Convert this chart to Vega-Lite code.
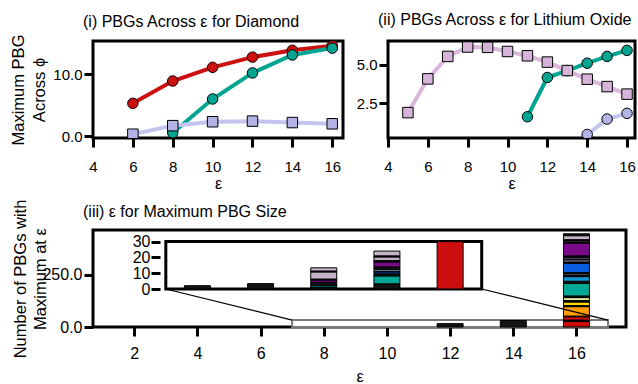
{
  "$schema": "https://vega.github.io/schema/vega-lite/v6.json",
  "background": "white",
  "padding": {"left": 9, "top": 10, "right": 0, "bottom": 0},
  "config": {
    "font": "Liberation Sans",
    "view": {"stroke": "black", "strokeWidth": 3},
    "axis": {"domain": false, "grid": false, "tickColor": "black", "tickWidth": 3, "tickSize": 9, "labelColor": "black", "titleColor": "black", "titleFontWeight": "normal", "labelFlush": false, "labelOverlap": false, "labelBound": false, "titleFontSize": 16, "labelPadding": 2},
    "title": {"fontSize": 16, "fontWeight": "normal", "anchor": "start", "frame": "group", "dx": -10, "offset": 11, "color": "black"}
  },
  "datasets": {
    "diamond": [
      {"s": "red", "eps": 6, "v": 5.3}, {"s": "red", "eps": 8, "v": 8.9}, {"s": "red", "eps": 10, "v": 11.1}, {"s": "red", "eps": 12, "v": 12.75}, {"s": "red", "eps": 14, "v": 13.85}, {"s": "red", "eps": 16, "v": 14.6},
      {"s": "teal", "eps": 8, "v": 0.55}, {"s": "teal", "eps": 10, "v": 6.0}, {"s": "teal", "eps": 12, "v": 10.2}, {"s": "teal", "eps": 14, "v": 13.1}, {"s": "teal", "eps": 16, "v": 14.2},
      {"s": "lav", "eps": 6, "v": 0.32}, {"s": "lav", "eps": 8, "v": 1.7}, {"s": "lav", "eps": 10, "v": 2.33}, {"s": "lav", "eps": 12, "v": 2.43}, {"s": "lav", "eps": 14, "v": 2.2}, {"s": "lav", "eps": 16, "v": 2.0}
    ],
    "lithium": [
      {"s": "teal", "eps": 11, "v": 1.63}, {"s": "teal", "eps": 12, "v": 4.18}, {"s": "teal", "eps": 13, "v": 4.63}, {"s": "teal", "eps": 14, "v": 5.11}, {"s": "teal", "eps": 15, "v": 5.55}, {"s": "teal", "eps": 16, "v": 5.94},
      {"s": "lav", "eps": 14, "v": 0.48}, {"s": "lav", "eps": 15, "v": 1.48}, {"s": "lav", "eps": 16, "v": 1.85},
      {"s": "lilac", "eps": 5, "v": 1.9}, {"s": "lilac", "eps": 6, "v": 4.09}, {"s": "lilac", "eps": 7, "v": 5.55}, {"s": "lilac", "eps": 8, "v": 6.16}, {"s": "lilac", "eps": 9, "v": 6.14}, {"s": "lilac", "eps": 10, "v": 5.87}, {"s": "lilac", "eps": 11, "v": 5.59}, {"s": "lilac", "eps": 12, "v": 5.18}, {"s": "lilac", "eps": 13, "v": 4.63}, {"s": "lilac", "eps": 14, "v": 4.07}, {"s": "lilac", "eps": 15, "v": 3.59}, {"s": "lilac", "eps": 16, "v": 3.1}
    ],
    "zoomrect": [{"eps": 7, "eps2": 17, "h": 0, "h2": 33}],
    "connectors": [{"eps": 3, "eps2": 7, "h": 181, "h2": 33}, {"eps": 13, "eps2": 17, "h": 181, "h2": 33}],
    "insetframe": [{"eps": 3, "eps2": 13, "h": 0, "h2": 30}],
    "mainbars": [
      {"eps": 12, "cat": "k", "h": 16, "o": 1},
      {"eps": 14, "cat": "k", "h": 31, "o": 1},
      {"eps": 16, "cat": "red", "h": 27, "o": 1},
      {"eps": 16, "cat": "k", "h": 6, "o": 2},
      {"eps": 16, "cat": "red", "h": 16, "o": 3},
      {"eps": 16, "cat": "k", "h": 3, "o": 4},
      {"eps": 16, "cat": "orange", "h": 45, "o": 5},
      {"eps": 16, "cat": "k", "h": 5, "o": 6},
      {"eps": 16, "cat": "yellow", "h": 17, "o": 7},
      {"eps": 16, "cat": "k", "h": 7, "o": 8},
      {"eps": 16, "cat": "pale", "h": 14, "o": 9},
      {"eps": 16, "cat": "k", "h": 8, "o": 10},
      {"eps": 16, "cat": "teal", "h": 60, "o": 11},
      {"eps": 16, "cat": "k", "h": 10, "o": 12},
      {"eps": 16, "cat": "cyan", "h": 22, "o": 13},
      {"eps": 16, "cat": "k", "h": 5, "o": 14},
      {"eps": 16, "cat": "lblue", "h": 8, "o": 15},
      {"eps": 16, "cat": "k", "h": 6, "o": 16},
      {"eps": 16, "cat": "blue", "h": 45, "o": 17},
      {"eps": 16, "cat": "k", "h": 6, "o": 18},
      {"eps": 16, "cat": "lav", "h": 10, "o": 19},
      {"eps": 16, "cat": "k", "h": 3, "o": 20},
      {"eps": 16, "cat": "lav", "h": 7, "o": 21},
      {"eps": 16, "cat": "k", "h": 9, "o": 22},
      {"eps": 16, "cat": "purple", "h": 61, "o": 23},
      {"eps": 16, "cat": "k", "h": 6, "o": 24},
      {"eps": 16, "cat": "gray", "h": 6, "o": 25},
      {"eps": 16, "cat": "k", "h": 4, "o": 26},
      {"eps": 16, "cat": "lilac", "h": 19, "o": 27},
      {"eps": 16, "cat": "k", "h": 9, "o": 28}
    ],
    "insetbars": [
      {"eps": 4, "cat": "k", "h": 2.1, "o": 1},
      {"eps": 6, "cat": "k", "h": 3.4, "o": 1},
      {"eps": 8, "cat": "k", "h": 1.1, "o": 1},
      {"eps": 8, "cat": "teal", "h": 1.0, "o": 2},
      {"eps": 8, "cat": "k", "h": 2.1, "o": 3},
      {"eps": 8, "cat": "purple", "h": 1.5, "o": 4},
      {"eps": 8, "cat": "k", "h": 0.6, "o": 5},
      {"eps": 8, "cat": "lilac", "h": 4.5, "o": 6},
      {"eps": 8, "cat": "k", "h": 0.6, "o": 7},
      {"eps": 8, "cat": "lilac", "h": 2.0, "o": 8},
      {"eps": 10, "cat": "k", "h": 3.3, "o": 1},
      {"eps": 10, "cat": "teal", "h": 5.0, "o": 2},
      {"eps": 10, "cat": "k", "h": 1.3, "o": 3},
      {"eps": 10, "cat": "blue", "h": 1.2, "o": 4},
      {"eps": 10, "cat": "k", "h": 0.5, "o": 5},
      {"eps": 10, "cat": "lblue", "h": 1.2, "o": 6},
      {"eps": 10, "cat": "k", "h": 1.5, "o": 7},
      {"eps": 10, "cat": "purple", "h": 3.1, "o": 8},
      {"eps": 10, "cat": "k", "h": 0.9, "o": 9},
      {"eps": 10, "cat": "lilac", "h": 2.3, "o": 10},
      {"eps": 10, "cat": "k", "h": 0.7, "o": 11},
      {"eps": 10, "cat": "lilac", "h": 3.0, "o": 12},
      {"eps": 12, "cat": "red", "h": 30, "o": 1}
    ]
  },
  "resolve": {"scale": {"color": "independent", "fill": "independent", "shape": "independent"}},
  "spacing": 4,
  "vconcat": [
    {
      "spacing": 9,
      "resolve": {"scale": {"color": "independent", "fill": "independent", "shape": "independent"}},
      "hconcat": [
        {
          "width": 250,
          "height": 97,
          "title": {"text": "(i) PBGs Across ε for Diamond", "offset": 4},
          "data": {"name": "diamond"},
          "encoding": {
            "x": {"field": "eps", "type": "quantitative", "scale": {"domain": [4, 16.54], "nice": false, "zero": false}, "axis": {"values": [4, 6, 8, 10, 12, 14, 16], "title": "ε", "labelFontSize": 15, "labelPadding": 12, "titlePadding": 1}},
            "y": {"field": "v", "type": "quantitative", "scale": {"domain": [-0.29, 15.35], "nice": false, "zero": false}, "axis": {"values": [0, 10], "format": ".1f", "title": ["Maximum PBG", "Across ϕ"], "labelFontSize": 15, "titleFontSize": 16.5, "titleLineHeight": 21, "titlePadding": 5}}
          },
          "layer": [
            {
              "mark": {"type": "line", "strokeWidth": 4},
              "encoding": {"color": {"field": "s", "type": "nominal", "legend": null, "scale": {"domain": ["red", "teal", "lav"], "range": ["#cc1010", "#00a591", "#c4c4ee"]}}}
            },
            {
              "mark": {"type": "point", "filled": true, "size": 110, "stroke": "black", "strokeWidth": 1, "opacity": 1, "clip": true},
              "encoding": {
                "fill": {"field": "s", "type": "nominal", "legend": null, "scale": {"domain": ["red", "teal", "lav"], "range": ["#cc1010", "#00a591", "#b3b3e6"]}},
                "shape": {"field": "s", "type": "nominal", "legend": null, "scale": {"domain": ["red", "teal", "lav"], "range": ["circle", "circle", "square"]}}
              }
            }
          ]
        },
        {
          "width": 247,
          "height": 97,
          "title": {"text": "(ii) PBGs Across ε for Lithium Oxide"},
          "data": {"name": "lithium"},
          "encoding": {
            "x": {"field": "eps", "type": "quantitative", "scale": {"domain": [4, 16.4], "nice": false, "zero": false}, "axis": {"values": [4, 6, 8, 10, 12, 14, 16], "title": "ε", "labelFontSize": 15, "labelPadding": 12, "titlePadding": 1}},
            "y": {"field": "v", "type": "quantitative", "scale": {"domain": [0.25, 6.55], "nice": false, "zero": false}, "axis": {"values": [2.5, 5.0], "format": ".1f", "title": null, "labelFontSize": 15}}
          },
          "layer": [
            {
              "mark": {"type": "line", "strokeWidth": 4},
              "encoding": {"color": {"field": "s", "type": "nominal", "legend": null, "scale": {"domain": ["teal", "lav", "lilac"], "range": ["#00a591", "#c4c4ee", "#d9b8dc"]}}}
            },
            {
              "mark": {"type": "point", "filled": true, "size": 110, "stroke": "black", "strokeWidth": 1, "opacity": 1, "clip": true},
              "encoding": {
                "fill": {"field": "s", "type": "nominal", "legend": null, "scale": {"domain": ["teal", "lav", "lilac"], "range": ["#00a591", "#b3b3e6", "#d6b3d9"]}},
                "shape": {"field": "s", "type": "nominal", "legend": null, "scale": {"domain": ["teal", "lav", "lilac"], "range": ["circle", "circle", "square"]}}
              }
            }
          ]
        }
      ]
    },
    {
      "width": 533,
      "height": 97,
      "title": {"text": "(iii) ε for Maximum PBG Size", "offset": -21},
      "encoding": {
        "x": {"field": "eps", "type": "quantitative", "scale": {"domain": [0.853, 17.41], "nice": false, "zero": false}, "axis": {"values": [2, 4, 6, 8, 10, 12, 14, 16], "title": "ε", "labelFontSize": 16, "labelPadding": 9, "titlePadding": 7}}
      },
      "layer": [
        {
          "layer": [
            {
              "data": {"name": "zoomrect"},
              "mark": {"type": "rect", "fill": "white", "stroke": "#7a7a7a", "strokeWidth": 2},
              "encoding": {
                "x2": {"field": "eps2"},
                "y": {"field": "h", "type": "quantitative", "scale": {"domain": [0, 462], "nice": false, "zero": false}, "axis": {"values": [0, 250], "format": ".1f", "title": ["Number of PBGs with", "Maximum at ε"], "labelFontSize": 16, "titleFontSize": 16.5, "titleLineHeight": 20, "titlePadding": -7}},
                "y2": {"field": "h2"}
              }
            },
            {
              "data": {"name": "mainbars"},
              "mark": {"type": "bar", "width": 26, "stroke": "black", "strokeWidth": 1},
              "encoding": {
                "y": {"field": "h", "type": "quantitative", "stack": "zero", "scale": {"domain": [0, 462], "nice": false, "zero": false}, "axis": {"values": [0, 250], "format": ".1f", "title": ["Number of PBGs with", "Maximum at ε"], "labelFontSize": 16, "titleFontSize": 16.5, "titleLineHeight": 20, "titlePadding": -7}},
                "color": {"field": "cat", "type": "nominal", "legend": null, "scale": {"domain": ["k", "red", "orange", "yellow", "pale", "teal", "cyan", "lblue", "blue", "lav", "purple", "gray", "lilac"], "range": ["#141414", "#cc0e0e", "#ff9c00", "#ffd700", "#eaf3a4", "#00a896", "#1597d3", "#8cb4e6", "#0a5ce0", "#a6a6d6", "#7a0a88", "#a0a0a0", "#c6b2c8"]}},
                "order": {"field": "o", "type": "quantitative"}
              }
            },
            {
              "data": {"name": "connectors"},
              "mark": {"type": "rule", "color": "black", "strokeWidth": 1.2},
              "encoding": {
                "x2": {"field": "eps2"},
                "y": {"field": "h", "type": "quantitative", "scale": {"domain": [0, 462], "nice": false, "zero": false}, "axis": {"values": [0, 250], "format": ".1f", "title": ["Number of PBGs with", "Maximum at ε"], "labelFontSize": 16, "titleFontSize": 16.5, "titleLineHeight": 20, "titlePadding": -7}},
                "y2": {"field": "h2"}
              }
            }
          ]
        },
        {
          "layer": [
            {
              "data": {"name": "insetframe"},
              "mark": {"type": "rect", "fill": "white", "stroke": "black", "strokeWidth": 3},
              "encoding": {
                "x2": {"field": "eps2"},
                "y": {"field": "h", "type": "quantitative", "scale": {"domain": [0, 30], "range": [59, 11.6], "nice": false, "zero": false}, "axis": {"orient": "left", "offset": -67, "values": [0, 10, 20, 30], "format": "d", "title": null, "labelFontSize": 16, "labelPadding": 1}},
                "y2": {"field": "h2"}
              }
            },
            {
              "data": {"name": "insetbars"},
              "mark": {"type": "bar", "width": 26, "stroke": "black", "strokeWidth": 1},
              "encoding": {
                "y": {"field": "h", "type": "quantitative", "stack": "zero", "scale": {"domain": [0, 30], "range": [59, 11.6], "nice": false, "zero": false}, "axis": {"orient": "left", "offset": -67, "values": [0, 10, 20, 30], "format": "d", "title": null, "labelFontSize": 16, "labelPadding": 1}},
                "color": {"field": "cat", "type": "nominal", "legend": null, "scale": {"domain": ["k", "red", "orange", "yellow", "pale", "teal", "cyan", "lblue", "blue", "lav", "purple", "gray", "lilac"], "range": ["#141414", "#cc0e0e", "#ff9c00", "#ffd700", "#eaf3a4", "#00a896", "#1597d3", "#8cb4e6", "#0a5ce0", "#a6a6d6", "#7a0a88", "#a0a0a0", "#c6b2c8"]}},
                "order": {"field": "o", "type": "quantitative"}
              }
            }
          ]
        }
      ],
      "resolve": {"scale": {"y": "independent"}, "axis": {"y": "independent"}}
    }
  ]
}
